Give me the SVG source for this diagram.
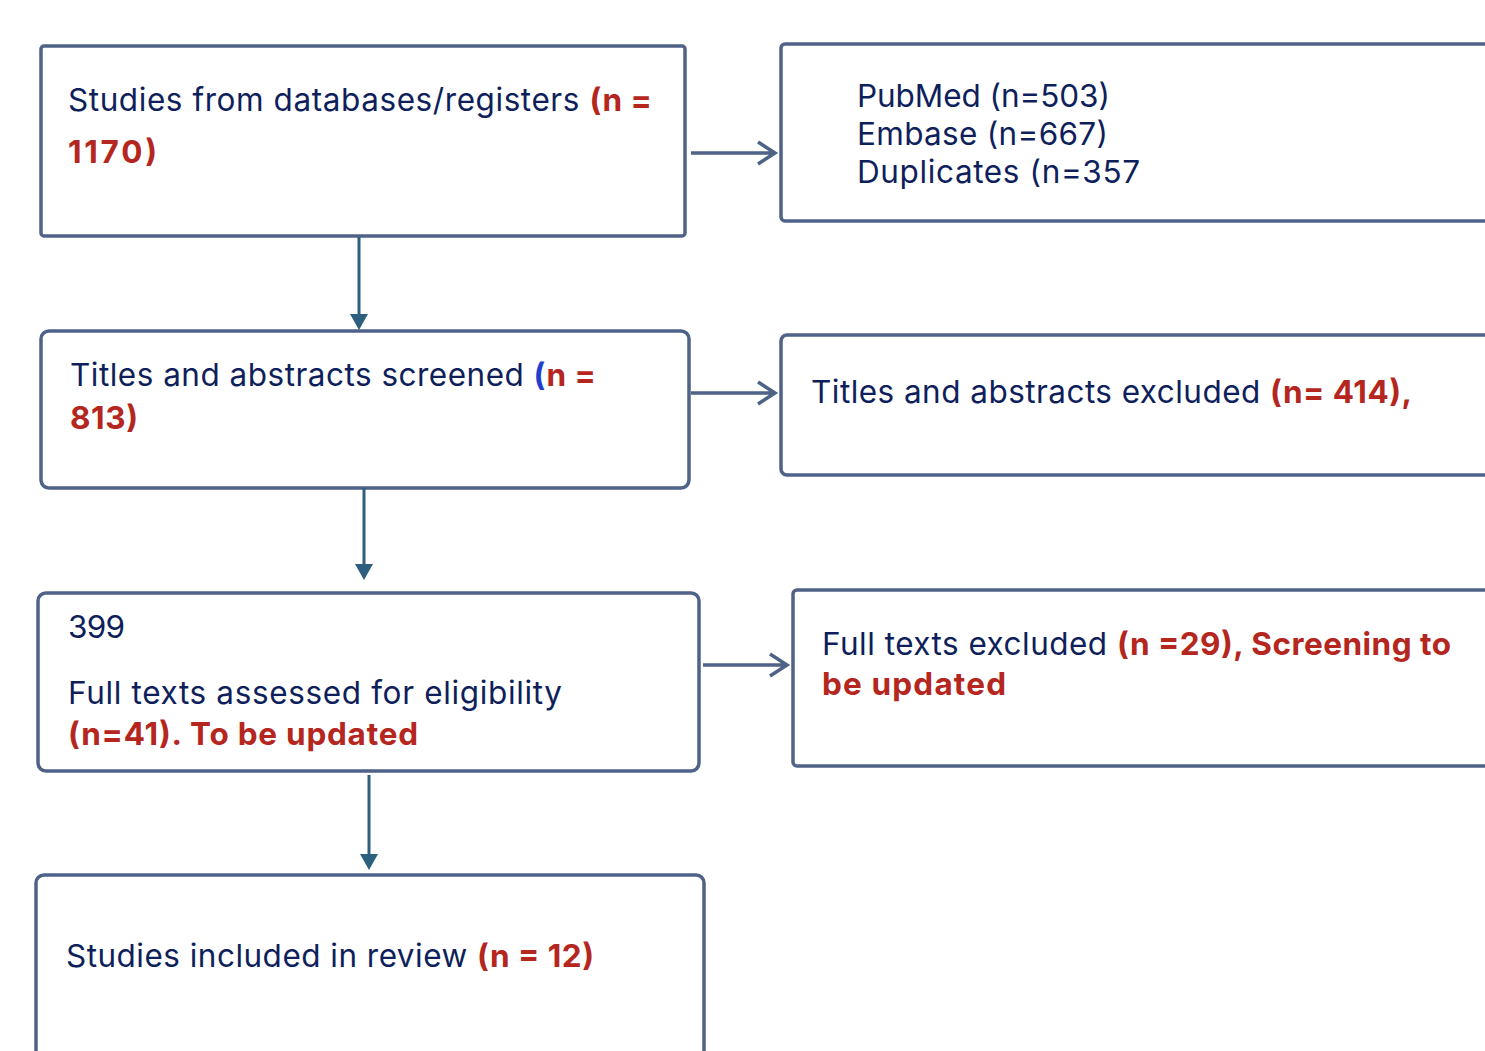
<svg xmlns="http://www.w3.org/2000/svg" width="1485" height="1051" viewBox="0 0 1485 1051">
<defs>
<style>
.box{fill:#fff;stroke:#4f6287;stroke-width:3.5}
.t{font-family:Inter,"Liberation Sans",sans-serif;font-size:31.5px;fill:#0f1f5c}
.r{fill:#b5261e;font-weight:bold}
.b{fill:#1f3fcf;font-weight:bold}
.down{stroke:#2d5f7e;stroke-width:3;fill:none}
.side{stroke:#4f6287;stroke-width:3.5;fill:none}
</style>
</defs>
<rect width="1485" height="1051" fill="#fff"/>
<g id="n1"><rect class="box" x="41" y="46" width="644" height="190" rx="3"/>
<text class="t" x="68" y="111" textLength="584" lengthAdjust="spacing">Studies from databases/registers <tspan class="r">(n =</tspan></text>
<text class="t r" x="68" y="163" textLength="89" lengthAdjust="spacing">1170)</text></g>
<g id="n2"><rect class="box" x="781" y="44" width="720" height="177" rx="4"/>
<text class="t" x="857" y="107" textLength="253" lengthAdjust="spacing">PubMed (n=503)</text>
<text class="t" x="857" y="145" textLength="251" lengthAdjust="spacing">Embase (n=667)</text>
<text class="t" x="857" y="183" textLength="283" lengthAdjust="spacing">Duplicates (n=357</text></g>
<g id="n3"><rect class="box" x="41" y="331" width="648" height="157" rx="8"/>
<text class="t" x="70" y="386" textLength="526" lengthAdjust="spacing">Titles and abstracts screened <tspan class="b">(</tspan><tspan class="r">n =</tspan></text>
<text class="t r" x="70" y="429" textLength="68" lengthAdjust="spacing">813)</text></g>
<g id="n4"><rect class="box" x="781" y="335" width="720" height="140" rx="6"/>
<text class="t" x="811" y="403" textLength="601" lengthAdjust="spacing">Titles and abstracts excluded <tspan class="r">(n= 414),</tspan></text></g>
<g id="n5"><rect class="box" x="38" y="593" width="661" height="178" rx="8"/>
<text class="t" x="68" y="638" textLength="57" lengthAdjust="spacing">399</text>
<text class="t" x="68" y="704" textLength="494" lengthAdjust="spacing">Full texts assessed for eligibility</text>
<text class="t r" x="68" y="745" textLength="350" lengthAdjust="spacing">(n=41). To be updated</text></g>
<g id="n6"><rect class="box" x="793" y="590" width="720" height="176" rx="4"/>
<text class="t" x="822" y="655" textLength="629" lengthAdjust="spacing">Full texts excluded <tspan class="r">(n =29), Screening to</tspan></text>
<text class="t r" x="822" y="695" textLength="184" lengthAdjust="spacing">be updated</text></g>
<g id="n7"><rect class="box" x="36" y="875" width="668" height="200" rx="8"/>
<text class="t" x="66" y="967" textLength="528" lengthAdjust="spacing">Studies included in review <tspan class="r">(n = 12)</tspan></text></g>
<g id="connectors">
<line class="down" x1="359" y1="237" x2="359" y2="316"/>
<polygon points="350,314 368,314 359,330" fill="#2d5f7e"/>
<line class="down" x1="364" y1="488" x2="364" y2="566"/>
<polygon points="355,564 373,564 364,580" fill="#2d5f7e"/>
<line class="down" x1="369" y1="775" x2="369" y2="856"/>
<polygon points="360,854 378,854 369,870" fill="#2d5f7e"/>
<path class="side" d="M691 153H775M758 142L775 153L758 164"/>
<path class="side" d="M691 393H775M758 382L775 393L758 404"/>
<path class="side" d="M703 665H787M770 654L787 665L770 676"/>
</g>
</svg>
